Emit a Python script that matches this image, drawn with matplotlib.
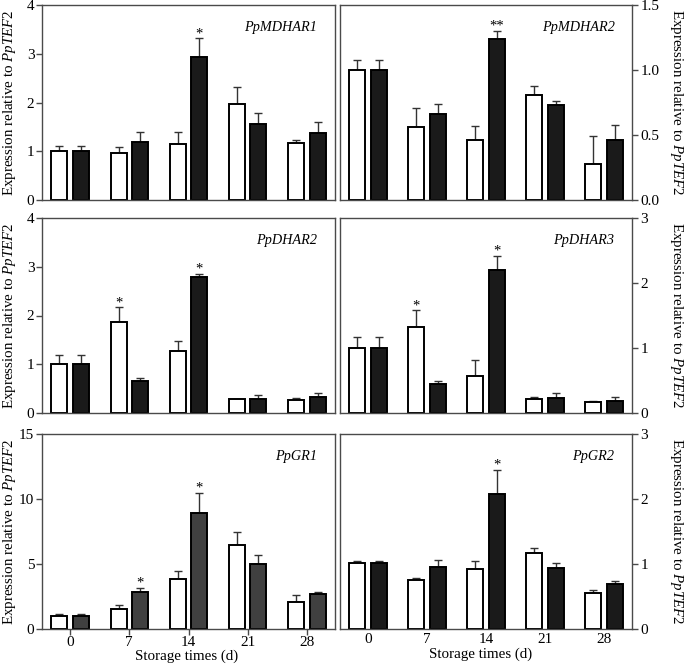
import matplotlib
matplotlib.use("Agg")
import matplotlib.pyplot as plt
import numpy as np

plt.rcParams['font.family'] = ['Liberation Serif', 'DejaVu Serif']
plt.rcParams['mathtext.fontset'] = 'custom'
plt.rcParams['mathtext.rm'] = 'Liberation Serif'
plt.rcParams['mathtext.it'] = 'Liberation Serif:italic'

days = ['0', '7', '14', '21', '28']

genes = ['PpMDHAR1', 'PpMDHAR2', 'PpDHAR2', 'PpDHAR3', 'PpGR1', 'PpGR2']

mdhar1_ctrl = [1.00, 0.96, 1.15, 1.97, 1.16]
mdhar1_ctrl_err = [0.10, 0.13, 0.24, 0.35, 0.08]
mdhar1_trt = [1.00, 1.20, 2.93, 1.56, 1.37]
mdhar1_trt_err = [0.10, 0.20, 0.39, 0.22, 0.22]
mdhar1_sig = [('', ''), ('', ''), ('', '*'), ('', ''), ('', '')]

mdhar2_ctrl = [1.00, 0.56, 0.46, 0.81, 0.28]
mdhar2_ctrl_err = [0.08, 0.15, 0.11, 0.07, 0.21]
mdhar2_trt = [1.00, 0.66, 1.24, 0.73, 0.46]
mdhar2_trt_err = [0.08, 0.08, 0.06, 0.03, 0.12]
mdhar2_sig = [('', ''), ('', ''), ('', '**'), ('', ''), ('', '')]

dhar2_ctrl = [1.00, 1.86, 1.27, 0.29, 0.26]
dhar2_ctrl_err = [0.18, 0.31, 0.20, 0.00, 0.05]
dhar2_trt = [1.00, 0.65, 2.80, 0.29, 0.33]
dhar2_trt_err = [0.18, 0.07, 0.06, 0.08, 0.08]
dhar2_sig = [('', ''), ('*', ''), ('', '*'), ('', ''), ('', '')]

dhar3_ctrl = [1.00, 1.33, 0.57, 0.22, 0.17]
dhar3_ctrl_err = [0.17, 0.25, 0.25, 0.03, 0.02]
dhar3_trt = [1.00, 0.44, 2.20, 0.23, 0.19]
dhar3_trt_err = [0.17, 0.06, 0.22, 0.08, 0.05]
dhar3_sig = [('', ''), ('*', ''), ('', '*'), ('', ''), ('', '')]

gr1_ctrl = [1.03, 1.54, 3.87, 6.44, 2.05]
gr1_ctrl_err = [0.15, 0.31, 0.59, 1.00, 0.54]
gr1_trt = [1.03, 2.82, 8.92, 4.97, 2.69]
gr1_trt_err = [0.15, 0.33, 1.54, 0.75, 0.18]
gr1_sig = [('', ''), ('', '*'), ('', '*'), ('', ''), ('', '')]

gr2_ctrl = [1.01, 0.76, 0.93, 1.17, 0.56]
gr2_ctrl_err = [0.04, 0.03, 0.12, 0.08, 0.04]
gr2_trt = [1.01, 0.95, 2.07, 0.94, 0.69]
gr2_trt_err = [0.04, 0.11, 0.38, 0.07, 0.05]
gr2_sig = [('', ''), ('', ''), ('', '*'), ('', ''), ('', '')]

panels = [
    (mdhar1_ctrl, mdhar1_ctrl_err, mdhar1_trt, mdhar1_trt_err, mdhar1_sig, (0, 4), [0, 1, 2, 3, 4], '{:.0f}'),
    (mdhar2_ctrl, mdhar2_ctrl_err, mdhar2_trt, mdhar2_trt_err, mdhar2_sig, (0, 1.5), [0, 0.5, 1.0, 1.5], '{:.1f}'),
    (dhar2_ctrl, dhar2_ctrl_err, dhar2_trt, dhar2_trt_err, dhar2_sig, (0, 4), [0, 1, 2, 3, 4], '{:.0f}'),
    (dhar3_ctrl, dhar3_ctrl_err, dhar3_trt, dhar3_trt_err, dhar3_sig, (0, 3), [0, 1, 2, 3], '{:.0f}'),
    (gr1_ctrl, gr1_ctrl_err, gr1_trt, gr1_trt_err, gr1_sig, (0, 15), [0, 5, 10, 15], '{:.0f}'),
    (gr2_ctrl, gr2_ctrl_err, gr2_trt, gr2_trt_err, gr2_sig, (0, 3), [0, 1, 2, 3], '{:.0f}'),
]

W, H = 685, 672
fig = plt.figure(figsize=(W / 100, H / 100), dpi=100)

cols_px = [(42, 335), (340, 632)]
rows_px = [(5, 200), (218, 413), (434, 629)]

ylabel = r'Expression relative to $\mathit{PpTEF2}$'
tfs = 11
lfs = 10.8
spine_c = '#4a4a4a'
x = np.arange(len(days))
bw = 0.27
off = 0.18

for i, (c, ce, t, te, sig, ylim, yticks, fmt) in enumerate(panels):
    r, col = divmod(i, 2)
    x0, x1 = cols_px[col]
    y0, y1 = rows_px[r]
    ax = fig.add_axes([x0 / W, 1 - y1 / H, (x1 - x0) / W, (y1 - y0) / H])
    trt_color = '#404040' if genes[i] == 'PpGR1' else '#1a1a1a'
    ax.bar(x - off, c, bw, color='white', edgecolor='black', linewidth=1.4, zorder=2)
    ax.bar(x + off, t, bw, color=trt_color, edgecolor='black', linewidth=1.4, zorder=2)
    ax.errorbar(x - off, c, yerr=[np.zeros(len(c)), ce], fmt='none', ecolor='#333333',
                elinewidth=1.0, capsize=3, capthick=1.0, zorder=1)
    ax.errorbar(x + off, t, yerr=[np.zeros(len(t)), te], fmt='none', ecolor='#333333',
                elinewidth=1.0, capsize=3, capthick=1.0, zorder=1)
    span = ylim[1] - ylim[0]
    for j, (sc, st) in enumerate(sig):
        if sc:
            ax.text(x[j] - off, c[j] + ce[j] - span * 0.01, sc, ha='center', va='bottom', fontsize=10.5)
        if st:
            ax.text(x[j] + off, t[j] + te[j] - span * 0.01, st, ha='center', va='bottom', fontsize=10.5)
    ax.set_xlim(-0.475, 4.475)
    ax.set_ylim(*ylim)
    ax.set_yticks(yticks)
    ax.set_yticklabels([fmt.format(v) for v in yticks], fontsize=tfs)
    for s in ax.spines.values():
        s.set_color(spine_c)
        s.set_linewidth(1.0)
    ax.text(0.94, 0.885, genes[i], transform=ax.transAxes, ha='right', va='center',
            fontsize=10.3, style='italic')
    if col == 1:
        ax.yaxis.tick_right()
        ax.yaxis.set_label_position('right')
        ax.set_ylabel(ylabel, fontsize=lfs, rotation=270)
        ax.yaxis.label.set_va('center')
        ax.yaxis.set_label_coords(1.154, 0.5)
        ax.tick_params(axis='y', direction='out', length=4, width=1.0, color=spine_c, pad=2)
    else:
        ax.set_ylabel(ylabel, fontsize=lfs)
        ax.yaxis.label.set_va('center')
        ax.yaxis.set_label_coords(-0.112, 0.5)
        ax.tick_params(axis='y', direction='out', length=4, width=1.0, color=spine_c, pad=1.5)
    if r == 2:
        ax.set_xticks(x)
        ax.set_xticklabels(days, fontsize=tfs)
        if col == 0:
            ax.tick_params(axis='x', direction='out', length=4, width=1.0, color=spine_c, pad=1)
            ax.set_xlabel('Storage times (d)', fontsize=lfs)
            ax.xaxis.label.set_va('center')
            ax.xaxis.set_label_coords(0.495, -0.14)
        else:
            ax.tick_params(axis='x', length=0, pad=3)
            ax.set_xlabel('Storage times (d)', fontsize=lfs)
            ax.xaxis.label.set_va('center')
            ax.xaxis.set_label_coords(0.48, -0.132)
    else:
        ax.set_xticks([])

fig.savefig('out.png', dpi=100)
